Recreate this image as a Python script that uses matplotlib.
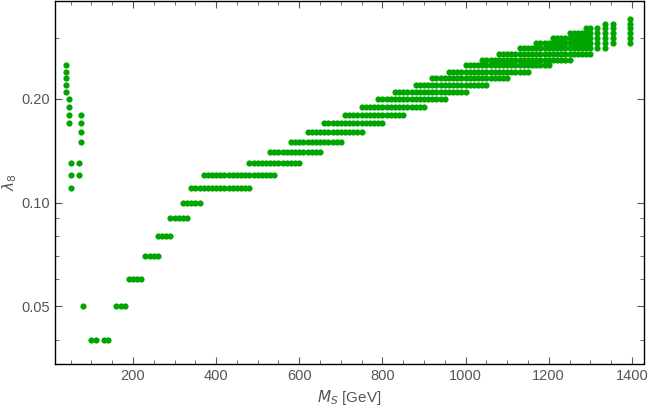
import numpy as np
import matplotlib.pyplot as plt
from matplotlib.ticker import FixedLocator, NullFormatter

# scan points: each entry is a row segment at fixed lambda_8, M_S from lo to hi in 10 GeV steps
seg_lam = [0.04, 0.04, 0.05, 0.05, 0.06, 0.07, 0.08, 0.09, 0.10, 0.11, 0.12, 0.13,
           0.14, 0.15, 0.16, 0.17, 0.18, 0.19, 0.20, 0.21, 0.22, 0.23, 0.24, 0.25,
           0.26, 0.27, 0.28, 0.29, 0.30, 0.31, 0.32]
seg_lo = [100, 130, 80, 160, 190, 230, 260, 290, 320, 340, 370, 480,
          530, 580, 620, 660, 710, 750, 790, 830, 880, 920, 960, 1000,
          1040, 1080, 1130, 1170, 1210, 1250, 1290]
seg_hi = [110, 140, 80, 180, 220, 260, 290, 330, 360, 480, 540, 600,
          650, 700, 750, 800, 850, 900, 950, 1000, 1050, 1100, 1150, 1200,
          1250, 1300, 1300, 1300, 1300, 1300, 1300]

# isolated columns at low and high mass
col_m = [40, 45, 50, 70, 75, 1315, 1335, 1355, 1395]
col_lam = [
    [0.21, 0.22, 0.23, 0.24, 0.25],
    [0.17, 0.18, 0.19, 0.20],
    [0.11, 0.12, 0.13],
    [0.12, 0.13],
    [0.15, 0.16, 0.17, 0.18],
    [0.28, 0.29, 0.30, 0.31, 0.32],
    [0.28, 0.29, 0.30, 0.31, 0.32, 0.33],
    [0.29, 0.30, 0.31, 0.32, 0.33],
    [0.29, 0.30, 0.31, 0.32, 0.33, 0.34],
]

xs, ys = [], []
for lam, lo, hi in zip(seg_lam, seg_lo, seg_hi):
    for m in np.arange(lo, hi + 1, 10):
        xs.append(m)
        ys.append(lam)
for m, lams in zip(col_m, col_lam):
    for lam in lams:
        xs.append(m)
        ys.append(lam)

plt.rcParams['font.family'] = ['Liberation Sans', 'DejaVu Sans']
plt.rcParams['mathtext.fontset'] = 'dejavusans'

fig = plt.figure(figsize=(6.5, 4.09), dpi=100)
ax = fig.add_axes([0.085, 0.11, 0.905, 0.888])

ax.scatter(xs, ys, s=20, color='#00a600', linewidths=0, zorder=3)

ax.set_yscale('log')
ax.set_xlim(13, 1428)
ax.set_ylim(0.0340, 0.385)

gray = '#555555'
ax.xaxis.set_major_locator(FixedLocator([200, 400, 600, 800, 1000, 1200, 1400]))
ax.xaxis.set_minor_locator(FixedLocator(np.arange(50, 1450, 50)))
ax.yaxis.set_major_locator(FixedLocator([0.05, 0.10, 0.20]))
ax.yaxis.set_minor_locator(FixedLocator([0.04, 0.06, 0.07, 0.08, 0.09, 0.30]))
ax.yaxis.set_minor_formatter(NullFormatter())
ax.set_yticklabels(['0.05', '0.10', '0.20'])

ax.tick_params(which='both', direction='in', top=True, right=True,
               colors=gray, labelcolor=gray, labelsize=10.5)
ax.tick_params(which='major', length=5, width=0.8)
ax.tick_params(which='minor', length=3, width=0.6)
for sp in ax.spines.values():
    sp.set_color('black')
    sp.set_linewidth(1.0)

ax.set_xlabel(r'$M_S$ [GeV]', color=gray, fontsize=11, labelpad=4)
ax.set_ylabel(r'$\lambda_8$', color=gray, fontsize=11, labelpad=2)

fig.savefig('out.png', dpi=100)
